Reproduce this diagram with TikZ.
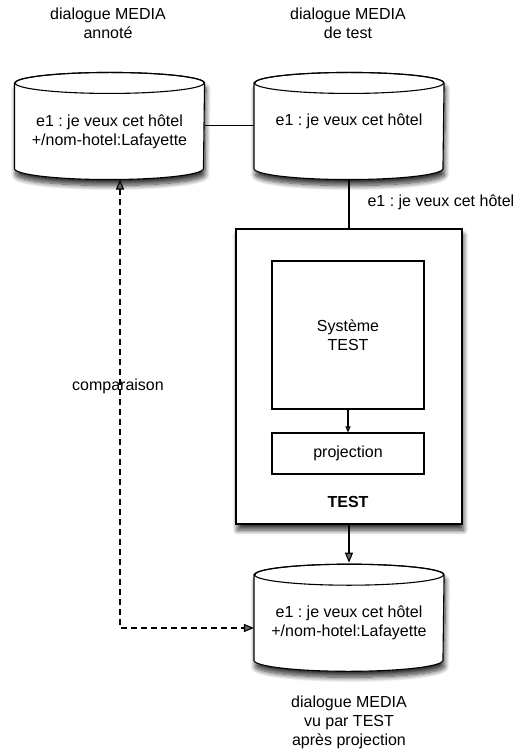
\documentclass[tikz,border=0pt]{standalone}
\usepackage{fontspec}
\setmainfont{Liberation Sans}
\usetikzlibrary{arrows.meta,shadows.blur}
\frenchspacing
\newcommand\mycylinder[1]{%
  \path[draw, fill=white, shad] (#1.north west) -- (#1.south west)
    arc[start angle=180,end angle=360,x radius=94.5pt,y radius=11pt]
    -- (#1.north east)
    arc[start angle=0,end angle=180,x radius=94.5pt,y radius=10.5pt] -- cycle;
  \draw (#1.north) ellipse[x radius=94.5pt, y radius=10.5pt];}
\begin{document}
\begin{tikzpicture}[x=1pt,y=-1pt, font=\fontsize{16}{19}\selectfont,
  line width=1.1pt,
  txt/.style={align=center, inner sep=0pt},
  cylbody/.style={minimum width=189pt, minimum height=84.5pt, inner sep=0pt},
  shad/.style={blur shadow={shadow xshift=1.5pt, shadow yshift=-6pt, shadow blur radius=5pt, shadow blur steps=10, shadow opacity=80}},
  bigbox/.style={draw, fill=white, shad},
  innerbox/.style={draw, fill=white, minimum width=152pt, align=center, inner sep=0pt},
  bigarrow/.style={-{Triangle[length=10pt,width=8pt]}},
  smallarrow/.style={-{Triangle[length=6pt,width=5pt]}},
  cmp/.style={dash pattern=on 6pt off 4pt, {Triangle[length=10pt,width=8pt]}-{Triangle[length=10pt,width=8pt]}}
]
\useasboundingbox (0,0) rectangle (514,751);

% cylinders (geometry nodes)
\node[cylbody] (c1) at (109.5,125.75) {};
\node[cylbody] (c2) at (349,125.75) {};
\node[cylbody] (c3) at (349,617.5) {};
\mycylinder{c1}
\mycylinder{c2}
\mycylinder{c3}

% texts in cylinders
\node[txt] (t1) at (109.5,131.5) {e1 : je veux cet hôtel\\+/nom-hotel:Lafayette};
\node[txt, anchor=base] (t2) at (349,126) {e1 : je veux cet hôtel};
\node[txt] (t3) at (349,623) {e1 : je veux cet hôtel\\+/nom-hotel:Lafayette};

% labels
\node[txt] (l1) at (108,23) {dialogue MEDIA\\annoté};
\node[txt] (l2) at (348,23) {dialogue MEDIA\\de test};
\node[txt] (l3) at (349,722.7) {dialogue MEDIA\\vu par TEST\\après projection};

% TEST box
\node[bigbox, minimum width=226pt, minimum height=295pt] (test) at (349,376.5) {};
\node[innerbox, minimum height=148pt] (sys) at (348,335) {Système\\TEST};
\node[innerbox, minimum height=41pt] (proj) at (348,453.5) {projection};
\node[txt, font=\fontsize{16}{19}\selectfont\bfseries] (testlbl) at (348,502) {TEST};
\draw[smallarrow] (sys) -- (proj);

% connectors
\draw (c1.east) -- (c2.west);
\draw ([yshift=-11pt]c2.south) -- (test.north);
\node[txt, anchor=base west] (elbl) at (367,207) {e1 : je veux cet hôtel};
\draw[bigarrow] (test.south) -- ([yshift=12pt]c3.north);

% comparison
\coordinate (corner) at (120,628);
\draw[cmp] ([yshift=-11pt]c1.south -| corner) -- (corner) -- (corner -| c3.west);
\node[txt, anchor=base] (cmplbl) at (118,390) {comparaison};
\end{tikzpicture}
\end{document}
